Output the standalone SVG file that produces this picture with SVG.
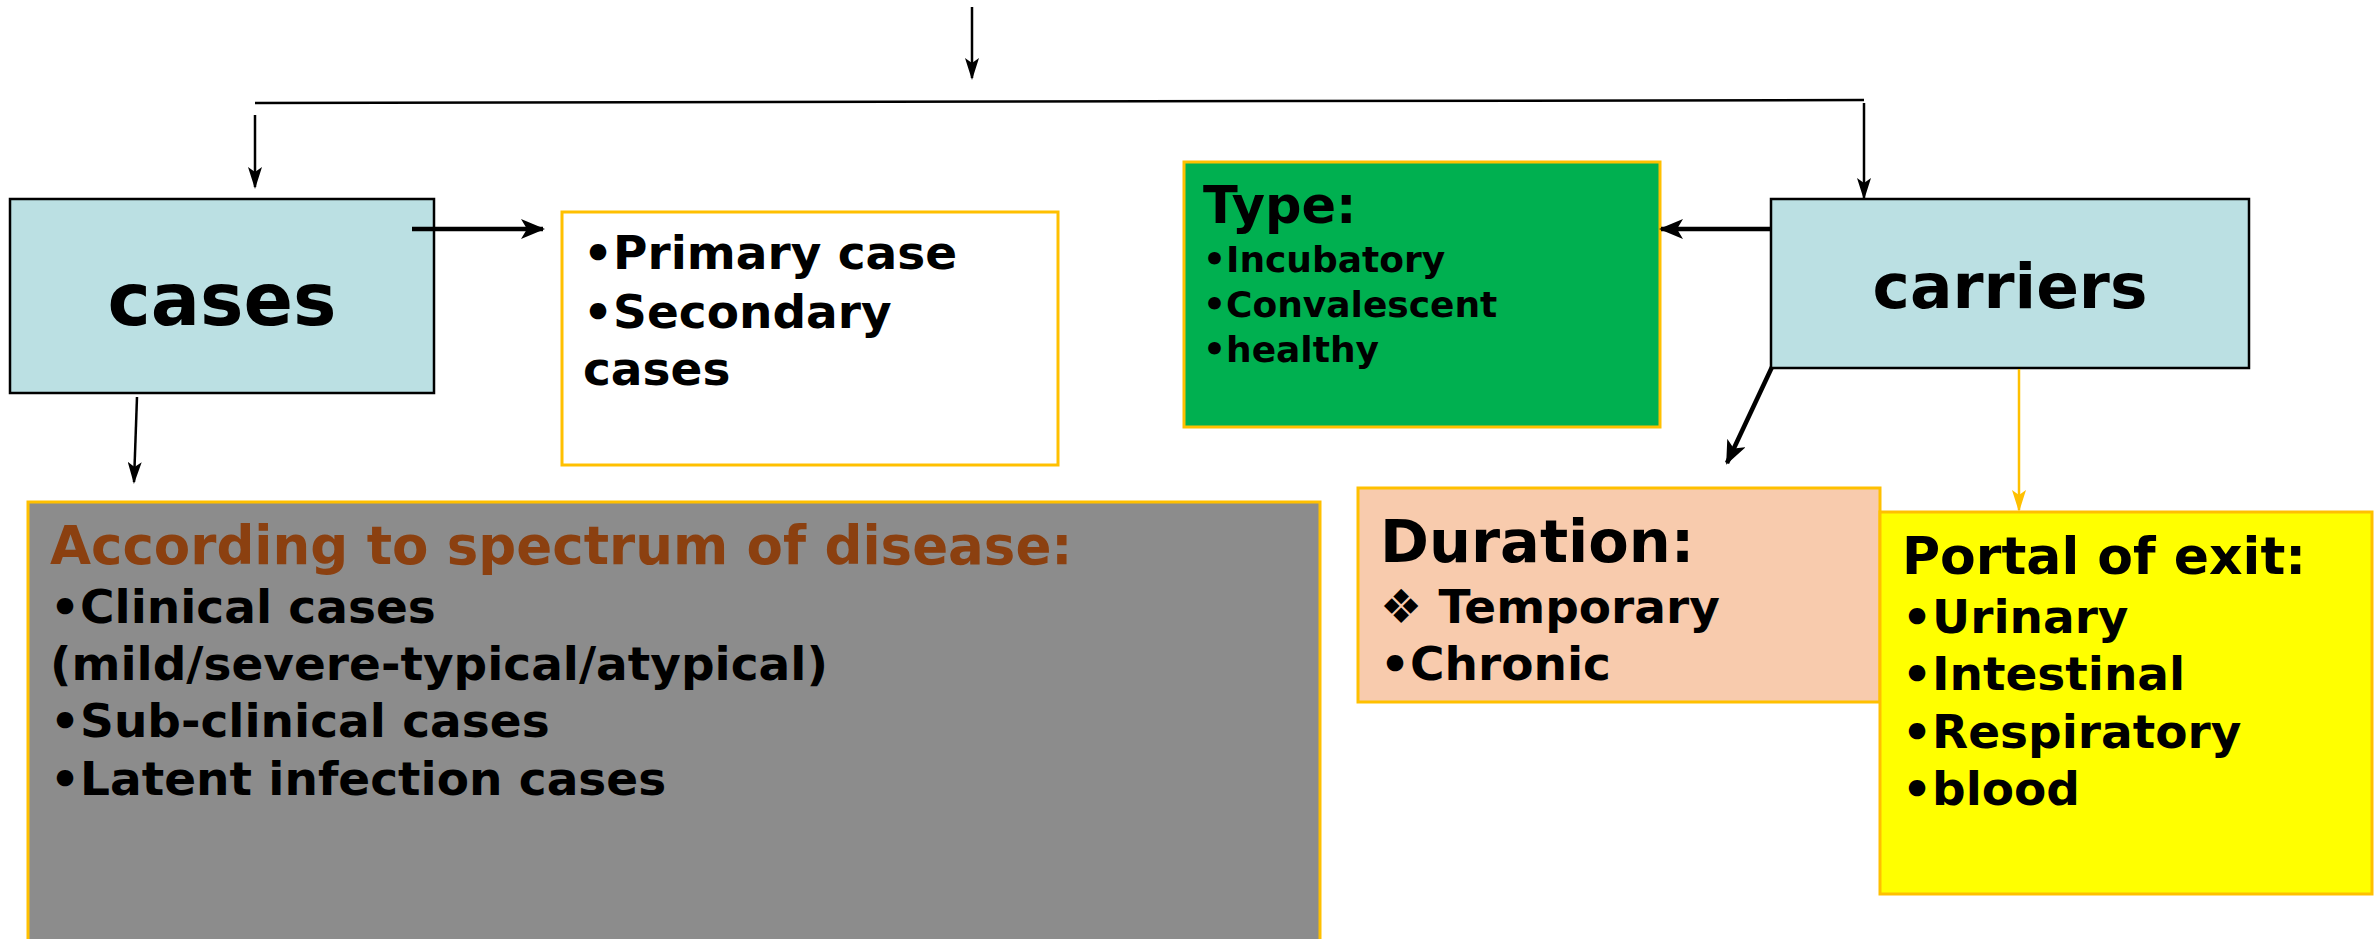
<svg xmlns="http://www.w3.org/2000/svg" width="2374" height="939" viewBox="0 0 2374 939">
<defs>
<marker id="ah" markerWidth="22" markerHeight="14" refX="20" refY="7" orient="auto" markerUnits="userSpaceOnUse">
<path d="M0,0 L22,7 L0,14 L5,7 z" fill="#000"/>
</marker>
<marker id="ahk" markerWidth="24" markerHeight="20" refX="22" refY="10" orient="auto" markerUnits="userSpaceOnUse">
<path d="M0,0 L24,10 L0,20 L6,10 z" fill="#000"/>
</marker>
<marker id="aho" markerWidth="22" markerHeight="14" refX="20" refY="7" orient="auto" markerUnits="userSpaceOnUse">
<path d="M0,0 L22,7 L0,14 L5,7 z" fill="#FFC000"/>
</marker>
</defs>
<style>
text{font-family:"DejaVu Sans","Verdana",sans-serif;font-weight:bold;fill:#000}
.box{stroke:#FFC000;stroke-width:3}
.main{fill:#BBE0E3;stroke:#000;stroke-width:2.5}
.thin{stroke:#000;stroke-width:2.5;fill:none}
.thick{stroke:#000;stroke-width:4.5;fill:none}
.b47{font-size:47px}
.b36{font-size:36px}
</style>
<rect width="2374" height="939" fill="#fff"/>
<g id="cases">
<rect class="main" x="10" y="199" width="424" height="194"/>
<text x="222" y="325" font-size="73" text-anchor="middle">cases</text>
</g>
<g id="primary">
<rect class="box" x="562" y="212" width="496" height="253" fill="#fff"/>
<text class="b47" x="583" y="269">•Primary case</text>
<text class="b47" x="583" y="328">•Secondary</text>
<text class="b47" x="583" y="385">cases</text>
</g>
<g id="spectrum">
<rect class="box" x="28" y="502" width="1292" height="460" fill="#8C8C8C"/>
<text x="50" y="564" font-size="53" style="fill:#8B4010">According to spectrum of disease:</text>
<text class="b47" x="50" y="623">•Clinical cases</text>
<text class="b47" x="50" y="680">(mild/severe-typical/atypical)</text>
<text class="b47" x="50" y="737">•Sub-clinical cases</text>
<text class="b47" x="50" y="795">•Latent infection cases</text>
</g>
<g id="type">
<rect class="box" x="1184" y="162" width="476" height="265" fill="#00B050"/>
<text x="1203" y="223" font-size="51">Type:</text>
<text class="b36" x="1203" y="272">•Incubatory</text>
<text class="b36" x="1203" y="317">•Convalescent</text>
<text class="b36" x="1203" y="362">•healthy</text>
</g>
<g id="carriers">
<rect class="main" x="1771" y="199" width="478" height="169"/>
<text x="2010" y="308" font-size="63" text-anchor="middle">carriers</text>
</g>
<g id="duration">
<rect class="box" x="1358" y="488" width="522" height="214" fill="#F8CBAD"/>
<text x="1380" y="562" font-size="59">Duration:</text>
<text class="b47" x="1380" y="623">❖ Temporary</text>
<text class="b47" x="1380" y="680">•Chronic</text>
</g>
<g id="portal">
<rect class="box" x="1880" y="512" width="492" height="382" fill="#FFFF00"/>
<text x="1902" y="574" font-size="52">Portal of exit:</text>
<text class="b47" x="1902" y="633">•Urinary</text>
<text class="b47" x="1902" y="690">•Intestinal</text>
<text class="b47" x="1902" y="748">•Respiratory</text>
<text class="b47" x="1902" y="805">•blood</text>
</g>
<g id="connectors">
<line class="thin" x1="972" y1="7" x2="972" y2="78" marker-end="url(#ah)"/>
<line class="thin" x1="255" y1="103" x2="1864" y2="100"/>
<line class="thin" x1="255" y1="115" x2="255" y2="187" marker-end="url(#ah)"/>
<line class="thin" x1="1864" y1="103" x2="1864" y2="198" marker-end="url(#ah)"/>
<line class="thick" x1="412" y1="229" x2="543" y2="229" marker-end="url(#ahk)"/>
<line class="thin" x1="137" y1="397" x2="134" y2="482" marker-end="url(#ah)"/>
<line class="thick" x1="1771" y1="229" x2="1661" y2="229" marker-end="url(#ahk)"/>
<line class="thick" x1="1772" y1="367" x2="1727" y2="463" marker-end="url(#ahk)"/>
<line stroke="#FFC000" stroke-width="2.5" x1="2019" y1="369" x2="2019" y2="510" marker-end="url(#aho)"/>
</g>
</svg>
